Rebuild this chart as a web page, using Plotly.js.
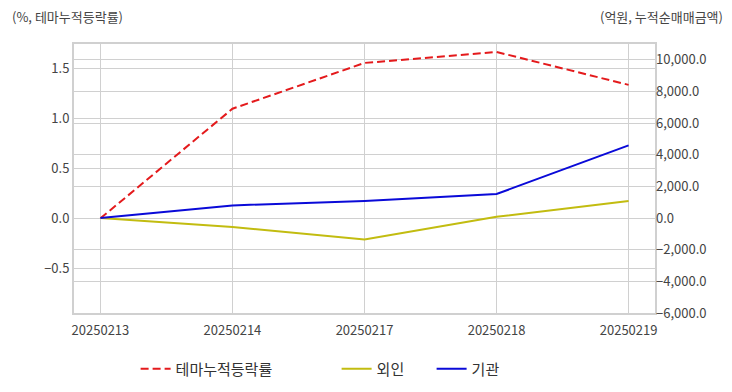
<!DOCTYPE html>
<html><head><meta charset="utf-8">
<script src="https://cdn.plot.ly/plotly-3.0.1.min.js"></script>
<style>html,body{margin:0;padding:0;background:#fff}#c{width:732px;height:392px}</style>
</head><body><div id="c"></div>
<script>
const dates = ['20250213','20250214','20250217','20250218','20250219'];
const themeRate = [0, 1.10, 1.56, 1.67, 1.34];
const foreign = [0, -570, -1350, 80, 1080];
const institution = [0, 800, 1080, 1520, 4590];
const names = ['테마누적등락률','외인','기관'];

const fam = '"Noto Sans CJK KR", "Noto Sans", sans-serif';
const font = {family: fam, size: 13, color: '#444'};
const traces = [
  {x: dates, y: themeRate, name: names[0], type: 'scatter', mode: 'lines', yaxis: 'y',
   line: {color: '#e41a1c', width: 2, dash: '8px,4px'}, legend: 'legend'},
  {x: dates, y: foreign, name: names[1], type: 'scatter', mode: 'lines', yaxis: 'y2',
   line: {color: '#c2bc10', width: 2}, legend: 'legend2'},
  {x: dates, y: institution, name: names[2], type: 'scatter', mode: 'lines', yaxis: 'y2',
   line: {color: '#0a0ad8', width: 2}, legend: 'legend3'}
];
const lg = (x) => ({orientation: 'h', xref: 'container', x: x, xanchor: 'left', yref: 'container', y: 1 - 369/392, yanchor: 'middle',
  font: {family: fam, size: 15, color: '#333'}, bgcolor: 'rgba(0,0,0,0)'});
const layout = {
  width: 732, height: 392,
  margin: {l: 74, r: 77, t: 44, b: 79},
  paper_bgcolor: '#fff', plot_bgcolor: '#fff',
  font: font,
  xaxis: {type: 'category', range: [-0.2, 4.2], showgrid: true, gridcolor: '#d0d0d0', automargin: false,
    showline: true, mirror: true, linecolor: '#d0d0d0', linewidth: 2, ticks: 'outside', ticklen: 4, tickcolor: 'rgba(0,0,0,0)', tickfont: font},
  yaxis: {range: [-0.95, 1.75], tickvals: [-0.5, 0, 0.5, 1.0, 1.5], tickformat: '.1f', automargin: false,
    showgrid: true, gridcolor: '#d0d0d0', zeroline: false, showline: true, mirror: true, linecolor: '#d0d0d0', linewidth: 2,
    ticks: '', tickfont: font},
  yaxis2: {overlaying: 'y', side: 'right', range: [-6000, 11000], tickvals: [-6000,-4000,-2000,0,2000,4000,6000,8000,10000], automargin: false,
    tickformat: ',.1f', showgrid: true, gridcolor: '#d0d0d0', zeroline: false, ticks: '', tickfont: font},
  showlegend: true,
  legend: lg(140/732 - 0.006),
  legend2: lg(341/732 - 0.006),
  legend3: lg(436/732 - 0.006),
  annotations: [
    {text: '(%, 테마누적등락률)', xref: 'paper', yref: 'paper', x: -0.11, xanchor: 'left', y: 1.104, yanchor: 'middle', showarrow: false, font: font},
    {text: '(억원, 누적순매매금액)', xref: 'paper', yref: 'paper', x: 1.12, xanchor: 'right', y: 1.104, yanchor: 'middle', showarrow: false, font: font}
  ]
};
Plotly.newPlot('c', traces, layout, {displayModeBar: false, staticPlot: true});
</script></body></html>
